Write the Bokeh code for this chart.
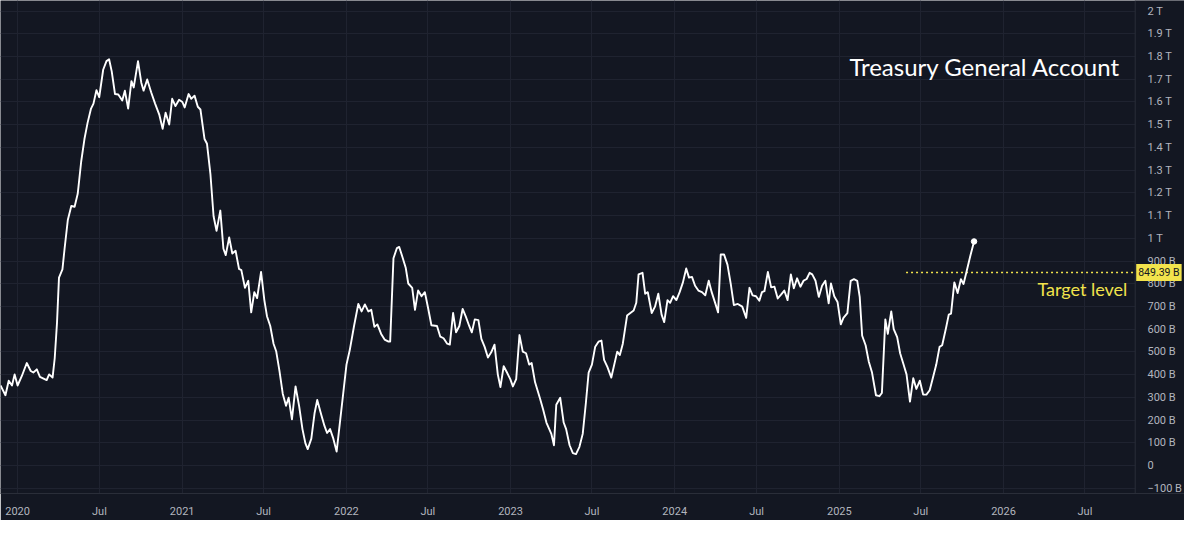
import numpy as np
import pandas as pd
from bokeh.plotting import figure
from bokeh.models import (Range1d, FixedTicker, Label, ColumnDataSource, CustomJSTickFormatter,
                          BoxAnnotation, Span)
from bokeh.embed import file_html
from bokeh.resources import INLINE

# ---------------- data ----------------
# time of each weekly observation, as decimal years
dec_year = [
    2019.896, 2019.926, 2019.946, 2019.966, 2019.982, 2020.000, 2020.026, 2020.056, 2020.080, 2020.096,
    2020.117, 2020.136, 2020.177, 2020.192, 2020.213, 2020.226, 2020.240, 2020.252, 2020.273, 2020.286,
    2020.306, 2020.327, 2020.347, 2020.366, 2020.387, 2020.407, 2020.426, 2020.447, 2020.462, 2020.480,
    2020.497, 2020.521, 2020.541, 2020.557, 2020.573, 2020.593, 2020.613, 2020.637, 2020.653, 2020.673,
    2020.693, 2020.707, 2020.733, 2020.753, 2020.767, 2020.789, 2020.813, 2020.837, 2020.863, 2020.883,
    2020.901, 2020.923, 2020.941, 2020.961, 2020.983, 2021.003, 2021.017, 2021.041, 2021.057, 2021.077,
    2021.097, 2021.113, 2021.138, 2021.153, 2021.174, 2021.193, 2021.211, 2021.234, 2021.253, 2021.267,
    2021.288, 2021.307, 2021.327, 2021.348, 2021.362, 2021.384, 2021.404, 2021.422, 2021.441, 2021.458,
    2021.482, 2021.502, 2021.518, 2021.538, 2021.558, 2021.574, 2021.594, 2021.614, 2021.634, 2021.650,
    2021.670, 2021.692, 2021.714, 2021.734, 2021.752, 2021.766, 2021.788, 2021.808, 2021.824, 2021.848,
    2021.868, 2021.884, 2021.902, 2021.922, 2021.942, 2021.962, 2021.982, 2022.002, 2022.022, 2022.048,
    2022.074, 2022.094, 2022.114, 2022.135, 2022.153, 2022.172, 2022.190, 2022.213, 2022.234, 2022.255,
    2022.268, 2022.288, 2022.309, 2022.323, 2022.342, 2022.363, 2022.378, 2022.402, 2022.419, 2022.438,
    2022.459, 2022.479, 2022.499, 2022.519, 2022.553, 2022.573, 2022.593, 2022.615, 2022.631, 2022.651,
    2022.669, 2022.689, 2022.709, 2022.729, 2022.749, 2022.765, 2022.783, 2022.805, 2022.823, 2022.843,
    2022.863, 2022.883, 2022.903, 2022.923, 2022.939, 2022.959, 2022.979, 2022.999, 2023.015, 2023.035,
    2023.055, 2023.075, 2023.095, 2023.114, 2023.129, 2023.150, 2023.180, 2023.199, 2023.219, 2023.249,
    2023.265, 2023.279, 2023.303, 2023.324, 2023.339, 2023.360, 2023.380, 2023.399, 2023.420, 2023.440,
    2023.459, 2023.476, 2023.496, 2023.516, 2023.536, 2023.554, 2023.570, 2023.590, 2023.614, 2023.650,
    2023.666, 2023.684, 2023.710, 2023.730, 2023.750, 2023.766, 2023.780, 2023.804, 2023.820, 2023.836,
    2023.860, 2023.880, 2023.900, 2023.920, 2023.936, 2023.956, 2023.972, 2023.990, 2024.010, 2024.030,
    2024.050, 2024.070, 2024.087, 2024.105, 2024.124, 2024.144, 2024.166, 2024.186, 2024.207, 2024.225,
    2024.244, 2024.264, 2024.280, 2024.300, 2024.321, 2024.341, 2024.360, 2024.384, 2024.411, 2024.435,
    2024.455, 2024.474, 2024.495, 2024.515, 2024.531, 2024.546, 2024.567, 2024.587, 2024.607, 2024.627,
    2024.647, 2024.667, 2024.687, 2024.707, 2024.725, 2024.745, 2024.765, 2024.785, 2024.803, 2024.821,
    2024.837, 2024.857, 2024.877, 2024.897, 2024.917, 2024.937, 2024.951, 2024.971, 2024.991, 2025.011,
    2025.027, 2025.051, 2025.071, 2025.091, 2025.111, 2025.126, 2025.141, 2025.162, 2025.181, 2025.201,
    2025.225, 2025.246, 2025.261, 2025.282, 2025.297, 2025.318, 2025.333, 2025.354, 2025.372, 2025.392,
    2025.411, 2025.432, 2025.452, 2025.471, 2025.492, 2025.512, 2025.532, 2025.552, 2025.572, 2025.592,
    2025.612, 2025.628, 2025.652, 2025.668, 2025.682, 2025.702, 2025.722, 2025.742, 2025.758, 2025.778,
    2025.798, 2025.822,
]

# Treasury General Account balance, billions of USD
tga_bn = [
    352, 309, 373, 352, 401, 352, 394, 451, 416, 409,
    423, 390, 376, 401, 387, 472, 629, 827, 863, 954,
    1082, 1142, 1139, 1196, 1337, 1437, 1508, 1571, 1593, 1652,
    1621, 1742, 1780, 1788, 1735, 1635, 1633, 1607, 1650, 1571,
    1692, 1664, 1780, 1685, 1650, 1699, 1643, 1593, 1543, 1482,
    1553, 1501, 1614, 1582, 1610, 1600, 1576, 1635, 1614, 1628,
    1579, 1567, 1437, 1416, 1281, 1097, 1033, 1122, 954, 926,
    1004, 933, 945, 865, 860, 782, 813, 674, 763, 737,
    852, 728, 657, 614, 536, 503, 416, 316, 263, 298,
    203, 348, 260, 160, 97, 72, 118, 231, 288, 224,
    174, 143, 160, 118, 61, 189, 316, 444, 508, 614,
    711, 678, 709, 678, 685, 610, 621, 579, 554, 546,
    546, 912, 957, 962, 919, 869, 801, 782, 685, 770,
    745, 763, 692, 617, 614, 567, 560, 536, 532, 671,
    586, 614, 689, 654, 614, 586, 643, 640, 557, 522,
    475, 498, 532, 401, 345, 437, 409, 380, 348, 380,
    574, 501, 494, 444, 451, 366, 295, 246, 189, 139,
    89, 267, 298, 189, 160, 89, 54, 50, 82, 139,
    274, 409, 444, 523, 545, 550, 465, 434, 387, 501,
    486, 536, 660, 671, 682, 716, 841, 848, 756, 763,
    671, 699, 756, 664, 631, 728, 716, 745, 728, 763,
    806, 867, 827, 830, 791, 770, 763, 749, 813, 763,
    720, 674, 929, 929, 884, 799, 706, 711, 699, 650,
    782, 749, 745, 725, 763, 767, 852, 784, 787, 735,
    752, 770, 728, 841, 780, 824, 787, 814, 821, 848,
    841, 813, 742, 791, 813, 714, 801, 745, 720, 621,
    650, 671, 813, 820, 813, 742, 571, 529, 458, 409,
    309, 305, 319, 643, 579, 678, 600, 565, 494, 447,
    401, 281, 384, 337, 373, 312, 312, 331, 387, 444,
    522, 529, 607, 664, 668, 806, 759, 820, 799, 858,
    919, 986,
]

target_level_bn = 849.39
target_label = "849.39 B"
target_start_year = 2025.408

y_ticks = list(range(-100, 2001, 100))
y_tick_labels = ["−100 B", "0", "100 B", "200 B", "300 B", "400 B", "500 B", "600 B", "700 B",
                 "800 B", "900 B", "1 T", "1.1 T", "1.2 T", "1.3 T", "1.4 T", "1.5 T", "1.6 T",
                 "1.7 T", "1.8 T", "1.9 T", "2 T"]

x_tick_dates = ["2020-01-01", "2020-07-01", "2021-01-01", "2021-07-01", "2022-01-01", "2022-07-01",
                "2023-01-01", "2023-07-01", "2024-01-01", "2024-07-01", "2025-01-01", "2025-07-01",
                "2026-01-01", "2026-07-01"]
x_tick_labels = ["2020", "Jul", "2021", "Jul", "2022", "Jul", "2023", "Jul", "2024", "Jul",
                 "2025", "Jul", "2026", "Jul"]

title_text = "Treasury General Account"
target_text = "Target level"

# ---------------- styling ----------------
BG = "#131722"
GRID = "#1f2330"
AXIS = "#2a2e39"
LABEL = "#b2b5be"
YELLOW = "#f2e34c"

BASE = pd.Timestamp("2020-01-01")


def year_to_dt(y):
    return BASE + pd.to_timedelta((np.asarray(y, dtype=float) - 2020.0) * 365.25, unit="D")


def year_to_ms(y):
    return float((year_to_dt(y) - pd.Timestamp("1970-01-01")) / pd.Timedelta(milliseconds=1))


src = ColumnDataSource(dict(date=year_to_dt(dec_year), tga=tga_bn))

x_start = year_to_ms(2019.896)
x_sep = year_to_ms(2026.803)     # where the price scale begins
x_end = year_to_ms(2027.103)

p = figure(
    width=1184, height=520,
    x_axis_type="datetime", y_axis_location="right",
    x_range=Range1d(x_start, x_end), y_range=Range1d(-123.4, 2046.8),
    output_backend="svg", toolbar_location=None,
    background_fill_color=BG, border_fill_color=BG, outline_line_color=None,
    min_border_left=0, min_border_top=0, min_border_right=0, min_border_bottom=26,
)

# ---- axes ----
x_tick_ms = [int(pd.Timestamp(d).value // 10**6) for d in x_tick_dates]
xticker = FixedTicker(ticks=x_tick_ms)
p.xaxis.ticker = xticker
p.xaxis.major_label_overrides = dict(zip(x_tick_ms, x_tick_labels))
p.xaxis.formatter = CustomJSTickFormatter(code="""
    const d = new Date(tick);
    return d.getUTCMonth() == 0 ? String(d.getUTCFullYear()) : "Jul";
""")
yticker = FixedTicker(ticks=y_ticks)
p.yaxis.ticker = yticker
p.yaxis.major_label_overrides = dict(zip(y_ticks, y_tick_labels))
p.yaxis.formatter = CustomJSTickFormatter(code="""
    if (tick == 0) return "0";
    if (Math.abs(tick) >= 1000) return (tick / 1000) + " T";
    return (tick < 0 ? "\u2212" : "") + Math.abs(tick) + " B";
""")

for ax in (p.xaxis[0], p.yaxis[0]):
    ax.axis_line_color = AXIS
    ax.major_tick_line_color = None
    ax.minor_tick_line_color = None
    ax.major_label_text_color = LABEL
    ax.major_label_text_font = "Roboto"
    ax.major_label_text_font_size = "11px"
p.xaxis.major_label_standoff = 5
# price scale labels are drawn inside the right strip of the canvas
p.yaxis.axis_line_color = None
p.yaxis.major_label_standoff = -43

p.xgrid.ticker = xticker
p.ygrid.ticker = yticker
p.xgrid.grid_line_color = GRID
p.ygrid.grid_line_color = GRID

# price-scale strip: hides the grid and is separated by a thin line
p.add_layout(BoxAnnotation(left=x_sep, fill_color=BG, fill_alpha=1.0, line_color=None,
                           level="glyph"))
p.add_layout(Span(location=x_sep, dimension="height", line_color=AXIS, line_width=1,
                  level="glyph"))

# ---- target level ----
p.line(x=[year_to_dt(target_start_year), pd.Timestamp(x_sep, unit="ms")],
       y=[target_level_bn, target_level_bn],
       line_color=YELLOW, line_width=1.6, line_dash="2 3")

# ---- series ----
p.line(x="date", y="tga", source=src, line_color="#ffffff", line_width=1.9, line_join="round")
last = ColumnDataSource(dict(date=[src.data["date"][-1]], tga=[tga_bn[-1]]))
p.scatter(x="date", y="tga", source=last, size=5.5, fill_color="#ffffff", line_color="#ffffff")

# ---- annotations ----
p.add_layout(Label(x=year_to_ms(2026.713), y=1757, text=title_text, text_align="right",
                   text_baseline="middle", text_color="#ffffff", text_font="Lato",
                   text_font_size="24px"))
p.add_layout(Label(x=year_to_ms(2026.755), y=779, text=target_text, text_align="right",
                   text_baseline="middle", text_color=YELLOW, text_font="Lato",
                   text_font_size="18px"))
p.add_layout(Label(x=x_sep, y=target_level_bn, x_offset=1, text=target_label,
                   text_align="left", text_baseline="middle", text_color=BG,
                   text_font="Roboto", text_font_size="10.5px",
                   background_fill_color=YELLOW, padding=2))

open("out.html", "w").write(file_html(p, INLINE))
